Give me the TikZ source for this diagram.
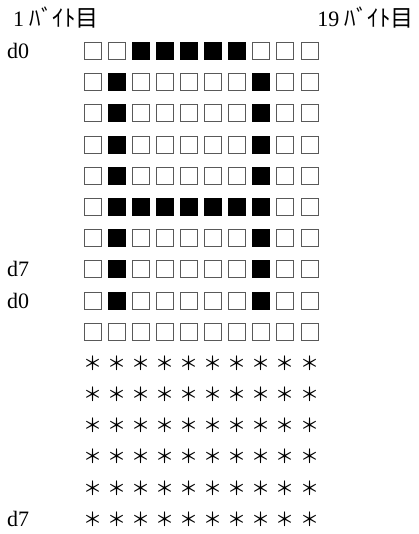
\documentclass[tikz,border=0pt]{standalone}
\usepackage{fontspec}
\setmainfont{Liberation Serif}
\newfontfamily\jp{Noto Sans CJK JP}
\begin{document}
\begin{tikzpicture}[x=1pt,y=-1pt,
  cell/.style={line width=0.9pt,minimum width=17pt,minimum height=17pt,inner sep=0pt},
  on/.style={cell,draw=black,fill=black},
  off/.style={cell,draw=black!65,fill=white},
  lbl/.style={font=\fontsize{22}{24}\selectfont,inner sep=0pt},
  star/.style={font=\jp\fontsize{19}{20}\selectfont,inner sep=0pt}]
\useasboundingbox (0,0) rectangle (419,534);
\node[lbl,anchor=base west] (h1) at (13,27) {1 {\jp\fontsize{23}{24}\selectfont ﾊﾞｲﾄ目}};
\node[lbl,anchor=base east] (h19) at (414,27) {19 {\jp\fontsize{23}{24}\selectfont ﾊﾞｲﾄ目}};
\foreach \r/\pat in {0/{0,0,1,1,1,1,1,0,0,0},1/{0,1,0,0,0,0,0,1,0,0},2/{0,1,0,0,0,0,0,1,0,0},3/{0,1,0,0,0,0,0,1,0,0},4/{0,1,0,0,0,0,0,1,0,0},5/{0,1,1,1,1,1,1,1,0,0},6/{0,1,0,0,0,0,0,1,0,0},7/{0,1,0,0,0,0,0,1,0,0},8/{0,1,0,0,0,0,0,1,0,0},9/{0,0,0,0,0,0,0,0,0,0}}{
  \foreach \c in {0,...,9}{
    \pgfmathsetmacro\yy{51+31.2*\r}
    \pgfmathsetmacro\xx{92.8+24.08*\c}
    \pgfmathtruncatemacro\v{{\pat}[\c]}
    \ifnum\v=1
      \node[on] (c\r-\c) at (\xx,\yy) {};
    \else
      \node[off] (c\r-\c) at (\xx,\yy) {};
    \fi
  }
}
\foreach \r in {10,...,15}{
  \foreach \c in {0,...,9}{
    \pgfmathsetmacro\yy{51+31.2*\r}
    \pgfmathsetmacro\xx{92.8+24.08*\c}
    \node[star] (s\r-\c) at (\xx,\yy) {＊};
  }
}
\node[lbl,anchor=west] (d0a) at (7,51) {d0};
\node[lbl,anchor=west] (d7a) at (7,{51+31.2*7}) {d7};
\node[lbl,anchor=west] (d0b) at (7,{51+31.2*8}) {d0};
\node[lbl,anchor=west] (d7b) at (7,{51+31.2*15}) {d7};
\end{tikzpicture}
\end{document}
